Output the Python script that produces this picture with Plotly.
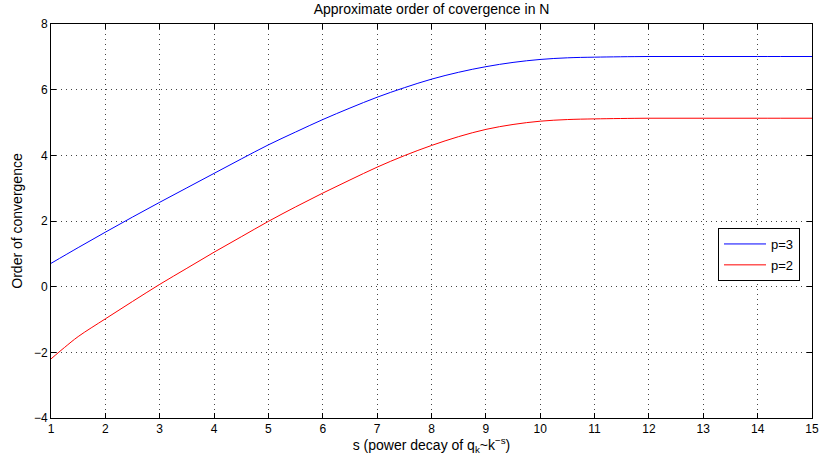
import plotly.graph_objects as go

s_blue = [1, 1.5, 2, 2.5, 3, 3.5, 4, 4.5, 5, 5.5, 6, 6.5, 7, 7.5, 8, 8.5, 9, 9.5, 10, 10.5, 11, 12, 13, 14, 15]
p3 = [0.71, 1.19, 1.66, 2.12, 2.57, 3.01, 3.45, 3.89, 4.32, 4.71, 5.09, 5.44, 5.77, 6.06, 6.32, 6.53, 6.70, 6.83, 6.92, 6.97, 6.99, 7.01, 7.01, 7.01, 7.01]

s_red = [1, 1.25, 1.5, 2, 2.5, 3, 3.5, 4, 4.5, 5, 5.5, 6, 6.5, 7, 7.5, 8, 8.5, 9, 9.5, 10, 10.5, 11, 12, 13, 14, 15]
p2 = [-2.2, -1.85, -1.52, -0.98, -0.45, 0.07, 0.56, 1.05, 1.52, 1.99, 2.43, 2.85, 3.25, 3.64, 3.99, 4.30, 4.57, 4.79, 4.94, 5.04, 5.09, 5.11, 5.13, 5.13, 5.13, 5.13]

x_ticks = list(range(1, 16))
y_ticks = [-4, -2, 0, 2, 4, 6, 8]

fig = go.Figure()
fig.add_trace(go.Scatter(x=s_blue, y=p3, mode="lines", name="p=3", legendgroup="g3",
                         line=dict(color="#0000ff", width=1, shape="spline", smoothing=1.0, simplify=False)))
fig.add_trace(go.Scatter(x=s_red, y=p2, mode="lines", name="p=2", legendgroup="g2",
                         line=dict(color="#ff0000", width=1, shape="spline", smoothing=1.0, simplify=False)))

axis_common = dict(
    showline=True, linecolor="black", linewidth=1, mirror="ticks",
    ticks="inside", ticklen=5, tickcolor="black", tickwidth=1,
    showgrid=True, gridcolor="#444444", griddash="1px,4px", gridwidth=1,
    zeroline=False, automargin=False,
    tickfont=dict(family="Liberation Sans, Arial", size=12, color="black"),
)

fig.update_layout(
    width=822, height=455,
    margin=dict(l=51, r=10, t=24, b=37, autoexpand=False),
    paper_bgcolor="white", plot_bgcolor="white",
    font=dict(family="Liberation Sans, Arial", size=12, color="black"),
    title=dict(text="Approximate order of covergence in N", x=0.525, xanchor="center",
               y=1 - 9 / 455, yanchor="middle", font=dict(size=14)),
    xaxis=dict(range=[1, 15], tickvals=x_ticks, ticktext=[str(v) for v in x_ticks],
               title=dict(text="s (power decay of q<sub>k</sub>~k<sup>\u2212s</sup>)", standoff=2,
                          font=dict(size=14)),
               **axis_common),
    yaxis=dict(range=[-4, 8], tickvals=y_ticks,
               title=dict(text="Order of convergence", standoff=8, font=dict(size=14)),
               **axis_common),
    legend=dict(x=(800 - 51) / 761, xanchor="right", y=(418 - 228) / 394, yanchor="top",
                bgcolor="white", bordercolor="black", borderwidth=1,
                font=dict(size=13), tracegroupgap=1, itemwidth=42),
    showlegend=True,
)

post = (
    "document.documentElement.style.margin='0';"
    "document.documentElement.style.overflow='hidden';"
    "document.body.style.margin='0';"
    "document.body.style.overflow='hidden';"
    "var gd=document.getElementById('{plot_id}');"
    "gd.style.position='absolute';gd.style.left='0px';gd.style.top='0px';"
)

fig.write_html("out.html", config={"displayModeBar": False}, post_script=post)
